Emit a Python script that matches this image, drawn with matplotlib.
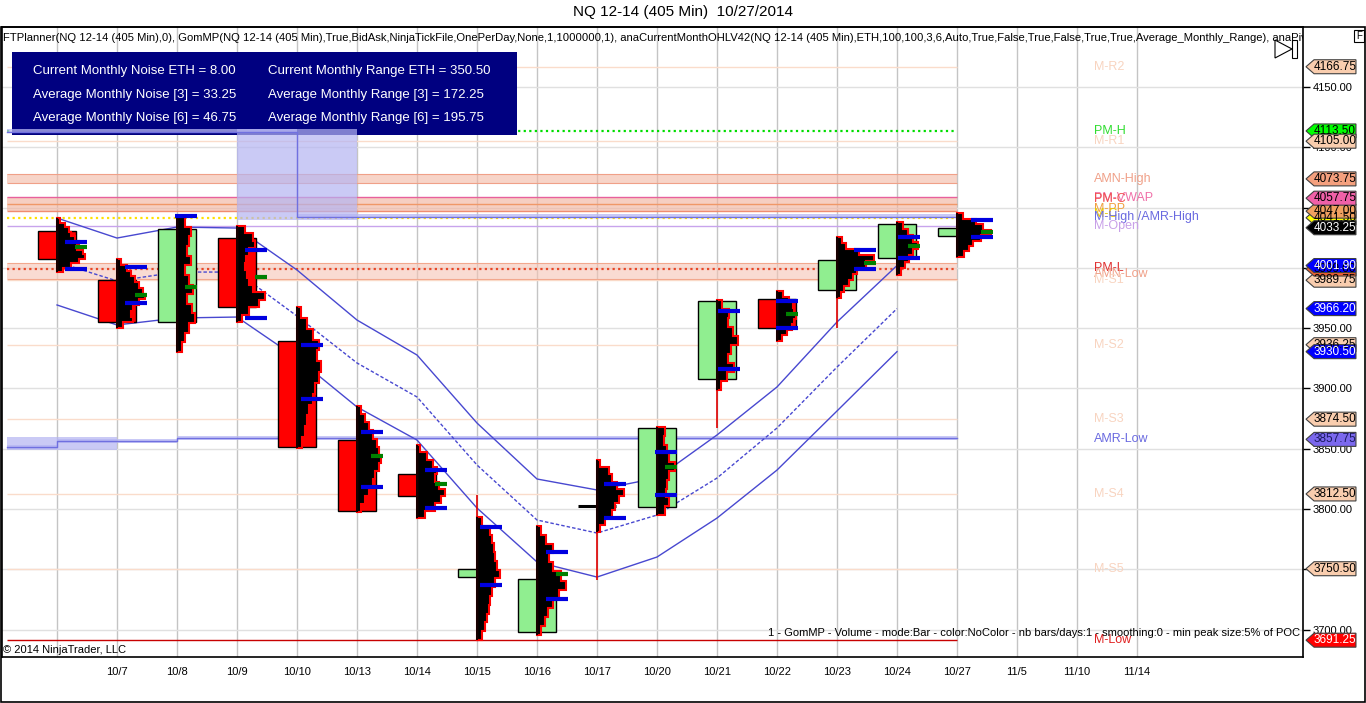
import numpy as np
import matplotlib.pyplot as plt
from matplotlib.patches import Rectangle, Polygon
from matplotlib.transforms import blended_transform_factory

plt.rcParams['font.family'] = ['Liberation Sans', 'DejaVu Sans']

# Datos (NQ 12-14, barras de 405 min)
tick_labels = ['', '10/7', '10/8', '10/9', '10/10', '10/13', '10/14', '10/15', '10/16', '10/17',
               '10/20', '10/21', '10/22', '10/23', '10/24', '10/27', '11/5', '11/10', '11/14']

opens = [4030.5, 3989.9, 3955.1, 4024.7, 3939.3, 3857.2, 3829.0, 3743.6,
         3698.0, 3802.5, 3801.7, 3907.8, 3974.1, 3981.6, 4008.1, 4026.4]
highs = [4041.3, 4007.3, 4042.1, 4034.7, 3967.5, 3885.4, 3853.1, 3793.4,
         3785.9, 3840.6, 3868.0, 3973.3, 3980.8, 4025.5, 4038.0, 4045.4]
lows = [3996.5, 3950.1, 3930.2, 3955.1, 3850.6, 3797.5, 3792.5, 3691.4,
        3695.5, 3780.9, 3795.0, 3898.7, 3939.3, 3975.0, 3994.0, 4009.0]
closes = [4007.3, 3955.1, 4032.2, 3967.5, 3851.4, 3798.3, 3810.8, 3750.2,
          3742.0, 3802.5, 3867.2, 3972.5, 3950.1, 4006.5, 4036.3, 4033.25]

# perfiles de volumen GomMP (ancho relativo por fila, de arriba hacia abajo)
profiles = [
    [3, 8, 12, 14, 18, 22, 20, 26, 28, 22, 14, 6],
    [4, 10, 14, 18, 22, 26, 28, 22, 16, 14, 16, 6],
    [8, 14, 12, 10, 14, 8, 12, 16, 10, 15, 18, 12, 8, 5],
    [8, 16, 18, 12, 9, 8, 10, 12, 16, 28, 22, 12, 5],
    [4, 10, 16, 22, 20, 24, 22, 18, 16, 12, 10, 8, 5],
    [4, 8, 12, 16, 20, 22, 24, 22, 18, 16, 12, 8, 4],
    [3, 10, 16, 20, 18, 22, 28, 24, 18, 8],
    [5, 13, 15, 17, 18, 20, 23, 18, 15, 13, 12, 10, 8, 5],
    [4, 9, 16, 12, 16, 24, 29, 22, 16, 11, 8, 4],
    [3, 12, 15, 20, 27, 22, 18, 15, 8, 3],
    [8, 7, 10, 12, 18, 12, 10, 9, 12, 8],
    [5, 12, 11, 16, 21, 14, 11, 17, 10, 4],
    [6, 12, 16, 17, 19, 17, 15, 10, 5],
    [5, 9, 22, 37, 29, 20, 16, 12, 7, 4],
    [6, 11, 16, 21, 16, 12, 8, 4],
    [6, 19, 26, 34, 24, 16, 12, 7],
]

va_high = [4021.4, 4000.7, 4043.0, 4014.8, 3936.0, 3863.8, 3832.3, 3785.1,
           3764.3, 3820.7, 3847.3, 3964.2, 3972.5, 4014.8, 4025.5, 4039.6]
poc = [4017.2, 3977.4, 3984.1, 3992.4, None, 3843.9, 3820.7, None,
       3746.1, None, 3834.8, None, 3961.7, 4004.0, 4018.1, 4029.7]
va_low = [3999.0, 3970.8, None, 3958.4, 3891.2, 3818.2, 3800.8, 3737.0,
          3725.4, 3792.5, 3811.6, 3916.1, 3950.1, 3999.0, 4008.1, 4025.5]

# mechas rojas fuera del rango de la vela
red_ext_bar = [7, 9, 11, 13]
red_ext_from = [3811.6, 3780.9, 3898.7, 3975.0]
red_ext_to = [3793.4, 3741.1, 3867.2, 3950.1]

# canal (superior, medio, inferior)
env_upper = [4041.3, 4024.7, 4033.8, 4033.0, 3998.2, 3956.7, 3927.7, 3871.3,
             3824.9, 3815.8, 3825.7, 3861.4, 3901.2, 3955.1, 4001.9]
env_mid = [4004.8, 3989.1, 3996.5, 3996.5, 3960.0, 3921.1, 3892.9, 3836.5,
           3790.9, 3780.1, 3795.0, 3825.7, 3867.2, 3917.7, 3966.2]
env_lower = [3969.2, 3952.6, 3958.4, 3959.2, 3925.2, 3884.6, 3857.2, 3800.8,
             3756.1, 3743.6, 3760.2, 3792.5, 3832.3, 3881.3, 3930.5]

# niveles mensuales
level_names = ['M-R2', 'PM-H', 'M-R1', 'AMN-High', 'PM-VWAP', 'PM-C', 'M-PP', 'M-C',
               'M-High /AMR-High', 'M-Open', 'PM-L', 'AMN-Low', 'M-S1', 'M-S2', 'M-S3',
               'AMR-Low', 'M-S4', 'M-S5', 'M-Low']
level_prices = [4166.75, 4113.50, 4105.00, 4073.75, 4057.75, 4057.0, 4049.0, 4045.0,
                4042.0, 4034.5, 4000.0, 3994.5, 3989.75, 3936.25, 3874.50,
                3857.75, 3812.50, 3750.50, 3691.25]
amn_high_band = (4070.0, 4078.0)
vwap_band = (4047.5, 4058.5)
amn_low_band = (3990.7, 4004.0)
yellow_close = 4041.5
pm_low_dots = 3999.0

amr_high = [4113.0] * 4 + [4042.5] * 12
amr_low_start = 3851.4
amr_low = [3856.4] * 2 + [3858.9] * 14

# etiquetas de precio del eje derecho
tag_prices = [4166.75, 4113.50, 4105.00, 4073.75, 4041.50, 4047.00, 4057.75, 4033.25,
              3989.75, 3999.00, 4001.90, 3966.20, 3936.25, 3930.50, 3874.50, 3857.75,
              3812.50, 3750.50, 3691.25]

info_left = ['Current Monthly Noise ETH = 8.00', 'Average Monthly Noise [3] = 33.25',
             'Average Monthly Noise [6] = 46.75']
info_right = ['Current Monthly Range ETH = 350.50', 'Average Monthly Range [3] = 172.25',
              'Average Monthly Range [6] = 195.75']

indicators = ('FTPlanner(NQ 12-14 (405 Min),0), GomMP(NQ 12-14 (405 Min),True,BidAsk,NinjaTickFile,'
              'OnePerDay,None,1,1000000,1), anaCurrentMonthOHLV42(NQ 12-14 (405 Min),ETH,100,100,3,6,'
              'Auto,True,False,True,False,True,True,Average_Monthly_Range), anaPivots')

# ---- figura ----
W, H = 1366, 703
fig = plt.figure(figsize=(W / 100, H / 100), dpi=100)
ax = fig.add_axes([2 / W, 46 / H, 1301 / W, 630 / H])
ax.set_xlim(-0.917, 20.767)
ax.set_ylim(3677.3, 4199.7)

PX = 1 / 60.0          # un pixel en unidades de barra
x_start = -0.83
x_end = len(opens) - 1
bars = np.arange(len(opens))

# rejilla
ax.set_xticks(range(len(tick_labels)))
ax.set_xticklabels(tick_labels, fontsize=8)
ax.tick_params(axis='x', length=0, pad=7)
yt = np.arange(3700, 4151, 50)
ax.yaxis.tick_right()
ax.set_yticks(yt)
ax.set_yticklabels([f'{v:.2f}' for v in yt], fontsize=8)
ax.tick_params(axis='y', length=5, width=1, pad=2)
ax.xaxis.grid(True, color='#C4C4C4', lw=1)
ax.yaxis.grid(True, color='#E0E0E0', lw=1)
ax.set_axisbelow(True)
for s in ax.spines.values():
    s.set_linewidth(1.2)

lv = dict(zip(level_names, level_prices))

# cuadro de información
ax.add_patch(Rectangle((0.0077, 0.8286), 0.3881, 0.1317, transform=ax.transAxes,
                       facecolor='#000080', edgecolor='none', zorder=1.65))
for i, (l, r) in enumerate(zip(info_left, info_right)):
    yy = 0.930 - i * 0.0373
    ax.text(0.0238, yy, l, transform=ax.transAxes, color='white', fontsize=9.5, va='center', zorder=1.66)
    ax.text(0.2045, yy, r, transform=ax.transAxes, color='white', fontsize=9.5, va='center', zorder=1.66)

# niveles horizontales
faint = '#FADCCB'
for name in ['M-R2', 'M-R1', 'M-S1', 'M-S2', 'M-S3', 'M-S4', 'M-S5']:
    ax.hlines(lv[name], x_start, x_end, color=faint, lw=1, zorder=1.5)
ax.hlines(lv['PM-H'], x_start, x_end, color='#00DD00', lw=1.6, ls=(0, (1, 1.5)), zorder=1.6)
ax.fill_between([x_start, x_end], *amn_high_band, color='#F3B8A4', alpha=0.6, lw=0, zorder=1.5)
ax.hlines(amn_high_band, x_start, x_end, color='#F0A088', lw=0.8, zorder=1.6)
ax.fill_between([x_start, x_end], *vwap_band, color='#F2B6A2', alpha=0.65, lw=0, zorder=1.5)
ax.hlines(vwap_band[1], x_start, x_end, color='#E8609C', lw=1, zorder=1.6)
ax.hlines(np.mean(vwap_band), x_start, x_end, color='#F09868', lw=1, zorder=1.6)
ax.hlines(vwap_band[0], x_start, x_end, color='#F08C70', lw=1, zorder=1.6)
ax.hlines(yellow_close, x_start, x_end, color='#FFE000', lw=1.6, ls=(0, (1, 1.5)), zorder=1.6)
ax.hlines(lv['M-Open'], x_start, x_end, color='#C8A4EC', lw=1, zorder=1.6)
ax.fill_between([x_start, x_end], *amn_low_band, color='#F6C4B4', alpha=0.6, lw=0, zorder=1.5)
ax.hlines(amn_low_band, x_start, x_end, color='#F2A88E', lw=0.8, zorder=1.6)
ax.hlines(pm_low_dots, x_start, x_end, color='#E84828', lw=1.6, ls=(0, (1, 1.5)), zorder=1.6)
ax.hlines(lv['M-Low'], x_start, x_end, color='#C80000', lw=1, zorder=1.6)

# bandas AMR (escalonadas)
amr_col = '#7070E0'
xs = np.concatenate([[x_start], bars])
hi_steps = np.concatenate([[amr_high[0]], amr_high])
lo_steps = np.concatenate([[amr_low_start], amr_low])
ax.fill_between(xs, hi_steps - 1.5, hi_steps + 2.0, step='post', color='#B8B8F4', alpha=0.75, lw=0, zorder=1.7)
ax.fill_between(xs, lo_steps - 1.5, lo_steps + 2.0, step='post', color='#B8B8F4', alpha=0.75, lw=0, zorder=1.7)
ax.step(xs, hi_steps, where='post', color=amr_col, lw=1, zorder=1.8)
ax.step(xs, lo_steps, where='post', color=amr_col, lw=1, zorder=1.8)
ax.fill_between([3, 5], amr_high[-1] - 2.5, amr_high[0] + 2.0, color='#B4B4F2', alpha=0.7, lw=0, zorder=1.7)
ax.fill_between([x_start, 1], amr_low_start - 2.5, amr_low[-1] + 1.0, color='#B4B4F2', alpha=0.7, lw=0, zorder=1.7)

# etiquetas de niveles
label_colors = {'M-R2': '#F8D4C0', 'PM-H': '#30DD30', 'M-R1': '#F8D4C0', 'AMN-High': '#F0A088',
                'PM-VWAP': '#F070A8', 'PM-C': '#F05050', 'M-PP': '#F0A040', 'M-C': '#E8C800',
                'M-High /AMR-High': '#6A6AE0', 'M-Open': '#C8A0E8', 'PM-L': '#E03030',
                'AMN-Low': '#F0A088', 'M-S1': '#F8D4C0', 'M-S2': '#F8D4C0', 'M-S3': '#F8D4C0',
                'AMR-Low': '#6A6AE0', 'M-S4': '#F8D4C0', 'M-S5': '#F8D4C0', 'M-Low': '#E02020'}
for name, p in zip(level_names, level_prices):
    ax.text(17.28, p, name, color=label_colors[name], fontsize=9, va='center', ha='left', zorder=3)

# canal
env_x = bars[:len(env_mid)]
ax.plot(env_x, env_upper, color='#4848D0', lw=1, zorder=2)
ax.plot(env_x, env_mid, color='#4848D0', lw=1, ls=(0, (2.5, 1.5)), zorder=2)
ax.plot(env_x, env_lower, color='#4848D0', lw=1, zorder=2)

# velas y perfiles
body_w = 0.62
for i in bars:
    o, h, l, c = opens[i], highs[i], lows[i], closes[i]
    if abs(c - o) < 0.5:
        ax.hlines(c, i - body_w / 2, i + body_w / 2, color='black', lw=2.2, zorder=4)
    else:
        col = '#90EE90' if c > o else '#FF0000'
        ax.add_patch(Rectangle((i - body_w / 2, min(o, c)), body_w, abs(c - o),
                               facecolor=col, edgecolor='black', lw=1, zorder=4))
    w = profiles[i]
    edges = np.linspace(h, l, len(w) + 1)
    verts = [(i, h)]
    for k, wk in enumerate(w):
        verts += [(i + wk * PX, edges[k]), (i + wk * PX, edges[k + 1])]
    verts.append((i, l))
    ax.add_patch(Polygon(verts, closed=True, facecolor='black', edgecolor='#FF0000',
                         lw=1.5, joinstyle='miter', zorder=5))
    ax.vlines(i, l, h, color='black', lw=1.3, zorder=6)
    end = i + (max(w) + 2) * PX
    for v in (va_high[i], va_low[i]):
        if v is not None:
            ax.hlines(v, end - 22 * PX, end, color='#0000E0', lw=3, zorder=7)
    if poc[i] is not None:
        ax.hlines(poc[i], end - 12 * PX, end, color='#008000', lw=3, zorder=7)

for b, p0, p1 in zip(red_ext_bar, red_ext_from, red_ext_to):
    ax.vlines(b, p1, p0, color='#E00000', lw=1.2, zorder=6)

# etiquetas de precio a la derecha
tag_style = {4166.75: ('#F9CDAE', 'black'), 4113.50: ('#00FF00', 'black'),
             4105.00: ('#F9CDAE', 'black'), 4073.75: ('#F4A07E', 'black'),
             4041.50: ('#FFFF00', 'black'), 4047.00: ('#F0A060', 'black'),
             4057.75: ('#F060A8', 'black'), 4033.25: ('#000000', 'white'),
             3989.75: ('#F9CDAE', 'black'), 3999.00: ('#F06030', 'black'),
             4001.90: ('#0000FF', 'white'), 3966.20: ('#0000FF', 'white'),
             3936.25: ('#F9CDAE', 'black'), 3930.50: ('#0000FF', 'white'),
             3874.50: ('#F9CDAE', 'black'), 3857.75: ('#7B68EE', '#1A1A60'),
             3812.50: ('#F9CDAE', 'black'), 3750.50: ('#F9CDAE', 'black'),
             3691.25: ('#FF0000', 'white')}
trans = blended_transform_factory(ax.transAxes, ax.transData)
hh = 5.8
for p in tag_prices:
    face, tc = tag_style[p]
    ax.add_patch(Polygon([(1.0023, p), (1.0085, p + hh), (1.0407, p + hh), (1.0407, p - hh), (1.0085, p - hh)],
                         closed=True, transform=trans, facecolor=face, edgecolor='#404040',
                         lw=0.8, clip_on=False, zorder=20))
    ax.text(1.0245, p, f'{p:.2f}', transform=trans, ha='center', va='center', fontsize=8.5,
            color=tc, clip_on=False, zorder=21)

# textos
fig.text(0.5, 1 - 12 / H, 'NQ 12-14 (405 Min)  10/27/2014', ha='center', va='center', fontsize=11)
ax.text(0.001, 0.9825, indicators, transform=ax.transAxes, fontsize=8.1, va='center',
        ha='left', clip_on=True, zorder=3)
ax.text(0.9977, 0.038, '1 - GomMP - Volume - mode:Bar - color:NoColor - nb bars/days:1 - '
        'smoothing:0 - min peak size:5% of POC', transform=ax.transAxes, fontsize=8,
        ha='right', va='center', zorder=3)
ax.text(0.001, 0.011, '\u00a9 2014 NinjaTrader, LLC', transform=ax.transAxes, fontsize=8,
        ha='left', va='center', zorder=3)

# icono y recuadro "F"
fx = lambda x: x / W
fy = lambda y: 1 - y / H
fig.add_artist(Polygon([(fx(1275), fy(40)), (fx(1275), fy(58)), (fx(1292), fy(49))], closed=True,
                       fill=False, edgecolor='black', lw=0.8, transform=fig.transFigure))
fig.add_artist(Rectangle((fx(1292), fy(58)), 5 / W, 18 / H, fill=False, edgecolor='black',
                         lw=0.8, transform=fig.transFigure))
fig.add_artist(Rectangle((fx(1354), fy(42)), 10 / W, 12 / H, facecolor='white', edgecolor='black',
                         lw=0.8, transform=fig.transFigure))
fig.text(fx(1359), fy(36), 'F', fontsize=7, ha='center', va='center')

# marco exterior
fig.add_artist(Rectangle((0.0005, 0.001), 0.999, 676 / H - 0.001, fill=False, edgecolor='black',
                         lw=1.2, transform=fig.transFigure))

fig.savefig('out.png', dpi=100)
